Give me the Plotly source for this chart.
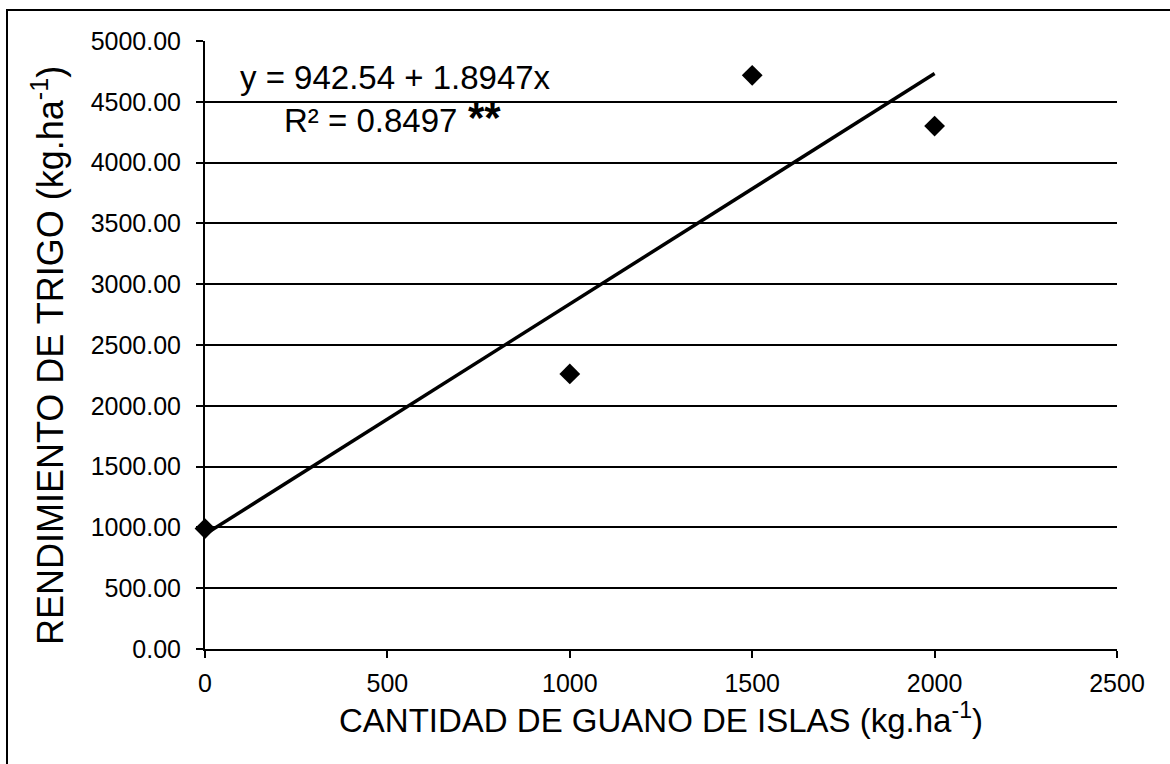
import numpy as np
import plotly.graph_objects as go

# Data
guano = [0, 1000, 1500, 2000]            # kg/ha
rendimiento = [990, 2262, 4718, 4300]    # kg/ha
intercept = 942.54
slope = 1.8947
r2 = 0.8497

x_ticks = [0, 500, 1000, 1500, 2000, 2500]
y_ticks = [0, 500, 1000, 1500, 2000, 2500, 3000, 3500, 4000, 4500, 5000]

W, H = 1170, 764
L, R, T, B = 205, 53, 41, 115
pw, ph = W - L - R, H - T - B

def px(x):
    return (x - L) / pw

def py(y):
    return (H - B - y) / ph

fit_x = [min(guano), max(guano)]
fit_y = [intercept + slope * v for v in fit_x]

FONT = "Liberation Sans, Arial, sans-serif"

fig = go.Figure()
fig.add_trace(go.Scatter(x=fit_x, y=fit_y, mode="lines",
                         line=dict(color="black", width=3.5),
                         showlegend=False, hoverinfo="skip", cliponaxis=False))
fig.add_trace(go.Scatter(x=guano, y=rendimiento, mode="markers",
                         marker=dict(symbol="diamond", size=16, color="black"),
                         showlegend=False, cliponaxis=False))

fig.update_layout(
    width=W, height=H,
    margin=dict(l=L, r=R, t=T, b=B),
    paper_bgcolor="white", plot_bgcolor="white",
    font=dict(family=FONT, color="black"),
    xaxis=dict(range=[0, 2500], tickvals=x_ticks, ticktext=[str(v) for v in x_ticks],
               showgrid=False, zeroline=False,
               showline=True, linecolor="black", linewidth=2,
               ticks="outside", ticklen=7, tickwidth=1.5, tickcolor="black",
               tickfont=dict(size=25, family=FONT),
               ticklabelstandoff=4,
               title=dict(text="CANTIDAD DE GUANO DE ISLAS (kg.ha<sup>-1</sup>)",
                          font=dict(size=33, family=FONT), standoff=6)),
    yaxis=dict(range=[0, 5000], tickvals=y_ticks, tickformat=".2f",
               showgrid=True, gridcolor="black", gridwidth=1.5,
               zeroline=False,
               showline=True, linecolor="black", linewidth=2,
               ticks="outside", ticklen=7, tickwidth=1.5, tickcolor="black",
               tickfont=dict(size=25, family=FONT),
               ticklabelstandoff=10),
    shapes=[dict(type="rect", xref="paper", yref="paper",
                 x0=px(7), x1=px(1178), y0=py(772), y1=py(10),
                 line=dict(color="black", width=2))],
    annotations=[
        dict(xref="paper", yref="paper", x=px(48), y=py(356), xanchor="center", yanchor="middle",
             text="RENDIMIENTO DE TRIGO (kg.ha<sup>-1</sup>)", textangle=-90, showarrow=False,
             font=dict(size=36, family=FONT)),
        dict(xref="paper", yref="paper", x=px(238), y=py(77), xanchor="left", yanchor="middle",
             text=f"y = {intercept} + {slope}x", showarrow=False,
             font=dict(size=33, family=FONT)),
        dict(xref="paper", yref="paper", x=px(282), y=py(121), xanchor="left", yanchor="middle",
             text=f"R²\u00a0= {r2}", showarrow=False,
             font=dict(size=33, family=FONT)),
        dict(xref="paper", yref="paper", x=px(466), y=py(117), xanchor="left", yanchor="middle",
             text="<b>**</b>", showarrow=False,
             font=dict(size=42, family=FONT)),
    ],
)

fig.write_html("out.html")
